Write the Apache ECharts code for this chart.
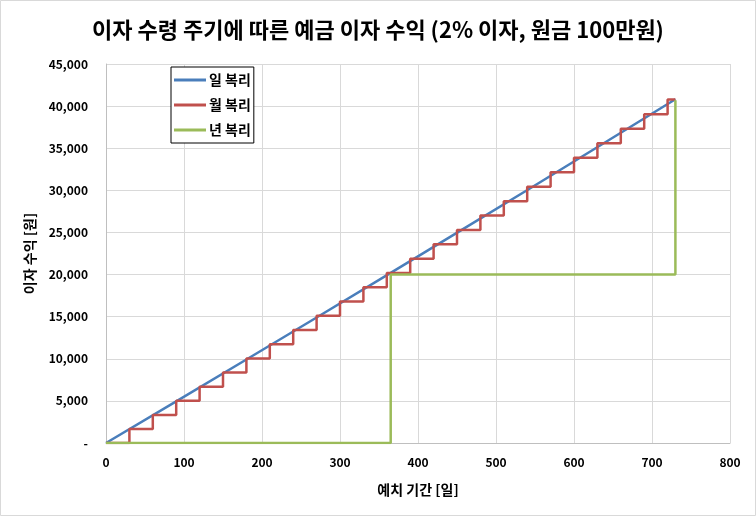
<!DOCTYPE html>
<html>
<head>
<meta charset="utf-8">
<script src="https://cdn.jsdelivr.net/npm/echarts@6/dist/echarts.min.js"></script>
<style>
html,body{margin:0;padding:0;background:#fff;}
#chart{width:756px;height:516px;}
</style>
</head>
<body>
<div id="chart"></div>
<script>
// Daily compounding (일 복리): day, interest [원]
const dailyDays = [0, 90, 180, 270, 365, 455, 545, 635, 730];
const dailyInterest = [0, 4944, 9912, 14904, 20201, 25244, 30313, 35406, 40810];

// Monthly compounding (월 복리): step points
const monthDays = [0, 30, 60, 90, 120, 150, 180, 210, 240, 270, 300, 330, 360, 390, 420, 450, 480, 510, 540, 570, 600, 630, 660, 690, 720, 730];
const monthlyInterest = [0, 1667, 3336, 5008, 6683, 8361, 10042, 11725, 13411, 15100, 16792, 18487, 20184, 21885, 23588, 25294, 27003, 28714, 30429, 32146, 33866, 35590, 37316, 39044, 40776, 40776];

// Yearly compounding (년 복리): step points
const yearDays = [0, 365, 730];
const yearlyInterest = [0, 20000, 40700];

const seriesNames = ['일 복리', '월 복리', '년 복리'];
const xTicks = { min: 0, max: 800, interval: 100 };
const yTicks = { min: 0, max: 45000, interval: 5000 };

const FONT = '"Noto Sans CJK KR", "Noto Sans", sans-serif';
const pairs = (xs, ys) => xs.map((x, i) => [x, ys[i]]);

const chart = echarts.init(document.getElementById('chart'), null, { renderer: 'canvas' });
chart.setOption({
  backgroundColor: '#ffffff',
  animation: false,
  textStyle: { fontFamily: FONT },
  graphic: [{
    type: 'rect',
    shape: { x: 0.5, y: 0.5, width: 755, height: 515 },
    style: { fill: 'none', stroke: '#d9d9d9', lineWidth: 1 },
    silent: true
  }],
  title: {
    text: '이자 수령 주기에 따른 예금 이자 수익 (2% 이자, 원금 100만원)',
    left: 'center',
    top: 14,
    textStyle: { fontFamily: FONT, fontSize: 22, fontWeight: 'bold', color: '#000' }
  },
  legend: {
    orient: 'vertical',
    left: 171,
    top: 67,
    padding: [6, 3, 6, 3],
    itemGap: 11,
    itemWidth: 32,
    itemHeight: 3,
    icon: 'rect',
    backgroundColor: '#fff',
    borderColor: '#000',
    borderWidth: 1,
    borderRadius: 0,
    textStyle: { fontFamily: FONT, fontSize: 14, fontWeight: 'bold', color: '#000', lineHeight: 14, padding: [0, 0, 0, -2] },
    data: seriesNames
  },
  grid: { left: 106, right: 26, top: 64, bottom: 73, containLabel: false },
  xAxis: {
    type: 'value',
    min: xTicks.min, max: xTicks.max, interval: xTicks.interval,
    name: '예치 기간 [일]',
    nameLocation: 'middle',
    nameGap: 40,
    nameTextStyle: { fontFamily: FONT, fontSize: 14, fontWeight: 'bold', color: '#000' },
    axisLine: { lineStyle: { color: '#bfbfbf', width: 1 } },
    axisTick: { show: false },
    axisLabel: { margin: 13, fontFamily: FONT, fontSize: 12, fontWeight: 'bold', color: '#000' },
    splitLine: { show: true, lineStyle: { color: '#d9d9d9', width: 1 } }
  },
  yAxis: {
    type: 'value',
    min: yTicks.min, max: yTicks.max, interval: yTicks.interval,
    name: '이자 수익 [원]',
    nameLocation: 'middle',
    nameGap: 69,
    nameRotate: 90,
    nameTextStyle: { fontFamily: FONT, fontSize: 14, fontWeight: 'bold', color: '#000' },
    axisLine: { show: true, lineStyle: { color: '#bfbfbf', width: 1 } },
    axisTick: { show: false },
    axisLabel: {
      margin: 18,
      fontFamily: FONT, fontSize: 12, fontWeight: 'bold', color: '#000',
      formatter: v => v === 0 ? '-' : v.toLocaleString('en-US')
    },
    splitLine: { show: true, lineStyle: { color: '#d9d9d9', width: 1 } }
  },
  series: [
    {
      name: seriesNames[0], type: 'line', symbol: 'none',
      data: pairs(dailyDays, dailyInterest),
      lineStyle: { color: '#4a7ebb', width: 2.5 },
      itemStyle: { color: '#4a7ebb' }
    },
    {
      name: seriesNames[1], type: 'line', symbol: 'none', step: 'end',
      data: pairs(monthDays, monthlyInterest),
      lineStyle: { color: '#c0504d', width: 2.5 },
      itemStyle: { color: '#c0504d' }
    },
    {
      name: seriesNames[2], type: 'line', symbol: 'none', step: 'end',
      data: pairs(yearDays, yearlyInterest),
      lineStyle: { color: '#9bbb59', width: 2.5 },
      itemStyle: { color: '#9bbb59' }
    }
  ]
});
</script>
</body>
</html>
